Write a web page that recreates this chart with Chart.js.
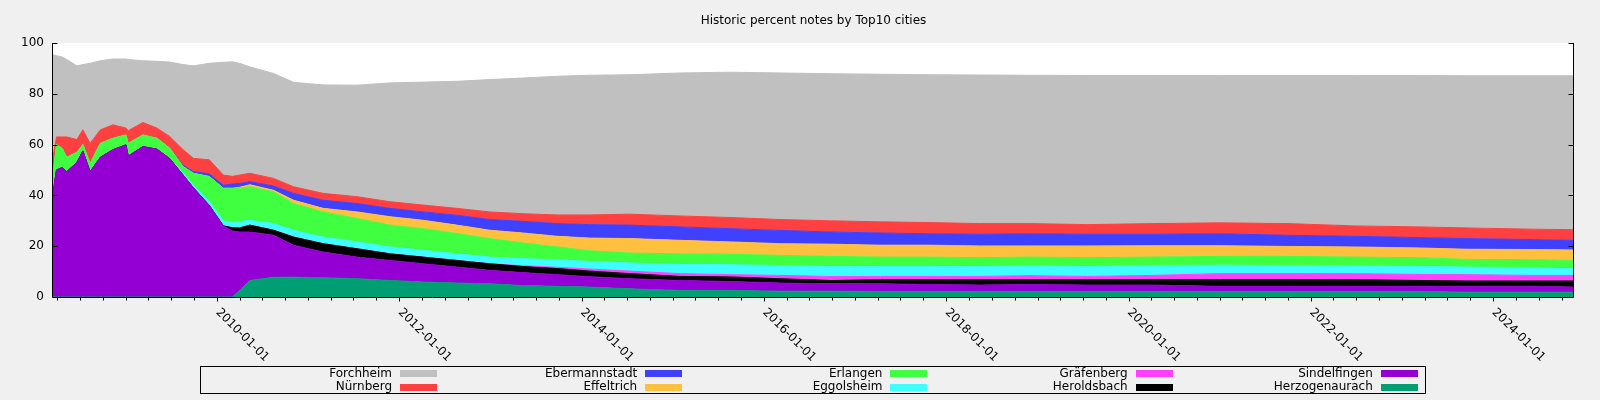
<!DOCTYPE html>
<html>
<head>
<meta charset="utf-8">
<title>Historic percent notes by Top10 cities</title>
<script src="https://cdn.jsdelivr.net/npm/chart.js@4/dist/chart.umd.min.js"></script>
<style>
    html, body { margin: 0; padding: 0; background: #f0f0f0; }
    canvas { display: block; }
</style>
</head>
<body>
<canvas id="notesChart" width="1600" height="400"></canvas>
<script>
(function () {
    'use strict';

    // sample dates (x values)
    const dates = [
        '2008-03-14', '2008-03-28', '2008-04-20', '2008-05-08', '2008-06-18', '2008-07-12', '2008-08-10', '2008-09-20', '2008-11-10', '2009-01-01',
        '2009-01-10', '2009-03-10', '2009-05-05', '2009-06-25', '2009-08-18', '2009-09-28', '2009-12-01', '2010-01-26', '2010-03-03', '2010-04-01',
        '2010-05-12', '2010-08-15', '2010-11-03', '2011-03-01', '2011-07-15', '2011-11-25', '2012-04-05', '2012-08-18', '2012-12-28', '2013-05-10',
        '2013-09-25', '2014-02-01', '2014-07-12', '2015-01-30', '2015-08-18', '2016-03-06', '2016-09-24', '2017-04-12', '2017-10-27', '2018-05-15',
        '2018-12-01', '2019-07-19', '2020-04-08', '2021-01-01', '2021-10-01', '2022-06-21', '2023-03-15', '2023-09-16', '2024-06-10', '2024-11-20'
    ];

    // percent per city, stacked from the bottom up
    const herzogenaurach = [0, 0, 0, 0, 0, 0, 0, 0, 0, 0, 0, 0, 0, 0, 0, 0, 0, 0, 0, 2.6, 6.5, 7.8, 7.8, 7.6, 7.2, 6.5, 5.9, 5.5, 5.2, 4.5, 4.2, 3.9, 3.2, 2.6, 2.6, 2.3, 2.3, 2.2, 2.2, 2.2, 2.2, 2.2, 2.2, 2.2, 2.2, 2.2, 2.2, 1.9, 1.9, 1.9];
    const sindelfingen = [41, 50, 51, 49.3, 53, 57.5, 49.3, 55, 58, 59.9, 55.5, 59.2, 58.2, 54.5, 48, 43, 36, 28, 26, 23, 19.1, 16.5, 12.6, 10.1, 8.5, 7.9, 7.2, 6.3, 5.3, 5.1, 4.6, 4.1, 4, 3.9, 3.5, 3.2, 2.9, 3, 2.7, 2.5, 2.7, 2.5, 2.5, 2, 2, 2, 2, 2.3, 2.3, 2];
    const heroldsbach = [0, 0, 0, 0, 0, 0, 0, 0, 0, 0, 0, 0, 0, 0, 0, 0, 0, 0, 1.3, 1.6, 2.7, 2, 3.2, 3.3, 3.3, 2.6, 2.6, 2.6, 2.6, 2.4, 2.4, 2.2, 2, 1.6, 1.8, 1.7, 1.3, 1.6, 1.9, 2.1, 1.9, 2.1, 2.2, 2.7, 2.7, 2.6, 2.3, 2.1, 2.1, 2.4];
    const graefenberg = [0, 0, 0, 0, 0, 0, 0, 0, 0, 0, 0, 0, 0, 0, 0, 0, 0, 0, 0, 0, 0, 0, 0, 0, 0, 0, 0, 0, 0, 0.3, 0.5, 0.8, 1, 1.1, 0.9, 1.3, 1.6, 1.3, 1.3, 1.3, 1.6, 1.3, 1.6, 2.3, 2.3, 2.4, 2.4, 2.5, 2.2, 2.2];
    const eggolsheim = [0, 0, 0, 0, 0, 0, 0, 0, 0, 0, 0, 0, 0, 0, 0.8, 1, 1.5, 2, 2, 2.4, 1.9, 2.6, 2.7, 2.6, 2.7, 2.7, 2.7, 2.6, 2.6, 2.8, 2.9, 3, 3.2, 3.6, 3.9, 3.9, 3.9, 3.9, 3.9, 3.9, 3.8, 3.9, 3.9, 3.3, 3.2, 3, 3.1, 3, 3, 2.6];
    const erlangen = [7, 10, 7.5, 5.7, 4, 2.5, 3.3, 5.5, 4.5, 3.9, 5, 4.6, 4.3, 4.1, 2.5, 4.7, 9.9, 12.8, 13.5, 13.2, 13.2, 12.5, 10.5, 9.9, 9.2, 8.6, 8.5, 8, 7.3, 6.2, 5.1, 4.2, 3.9, 4.2, 4.1, 4, 4, 3.7, 3.7, 3.5, 3.5, 3.5, 3.3, 3.5, 3.6, 3.5, 3.5, 3, 3.2, 3.3];
    const effeltrich = [0, 0, 0, 0, 0, 0, 0, 0, 0, 0, 0, 0, 0, 0, 0, 0, 0, 0, 0, 0.4, 0.8, 0.6, 1.3, 1.4, 2.6, 3.3, 3.3, 3.3, 3.3, 3.9, 4.2, 5, 5.7, 5.3, 4.9, 4.6, 4.8, 4.7, 4.7, 4.6, 4.4, 4.6, 4.5, 4.2, 3.9, 4, 3.8, 4, 4, 4.1];
    const ebermannstadt = [0, 0, 0, 0, 0, 0, 0, 0, 0, 0, 0, 0, 0, 0, 0.5, 0.7, 1.1, 1.2, 1.7, 1.5, 1.2, 1.7, 2.7, 3.2, 3.3, 3.3, 3.3, 3.9, 4.2, 4.6, 5, 5.3, 5.3, 5.3, 5.2, 5.2, 4.8, 4.8, 4.5, 4.6, 4.8, 4.6, 4.5, 4.7, 4.4, 4.2, 4.1, 4.2, 3.9, 3.8];
    const nuernberg = [7, 3, 4.5, 8, 5, 5.8, 7.9, 5.3, 5.3, 2.7, 5, 4.9, 4, 4.6, 6.2, 5.2, 5.5, 4, 3, 3.3, 3.3, 3, 2.6, 2.7, 2.7, 2.6, 2.7, 2.7, 3, 3, 3.4, 3.8, 4.3, 4.3, 4.4, 4.3, 4.4, 4.4, 4.4, 4.2, 4, 3.8, 4.2, 4.3, 4.6, 4.1, 4.2, 4.2, 4.1, 4.2];
    const forchheim = [40.4, 32, 31.5, 30.5, 29, 25.7, 31.5, 27.2, 25.9, 27.2, 28, 24.3, 26.3, 29.3, 33.5, 36.4, 38, 44.4, 45.1, 44, 41.9, 41.3, 41.1, 42.7, 43.9, 46.8, 48.4, 50, 52.1, 53.4, 54.6, 55, 54.9, 56.3, 57.2, 57.7, 57.9, 58.1, 58.2, 58.5, 58.4, 58.7, 58.3, 58, 58.3, 59.2, 59.6, 59.9, 60.4, 60.6];

    const cities = ['Herzogenaurach', 'Sindelfingen', 'Heroldsbach', 'Gräfenberg', 'Eggolsheim', 'Erlangen', 'Effeltrich', 'Ebermannstadt', 'Nürnberg', 'Forchheim'];
    const series = [herzogenaurach, sindelfingen, heroldsbach, graefenberg, eggolsheim, erlangen, effeltrich, ebermannstadt, nuernberg, forchheim];
    const colors = ['#009e73', '#9400d3', '#000000', '#ff40ff', '#40ffff', '#40ff40', '#ffc040', '#4040ff', '#ff4040', '#c0c0c0'];

    const yTicks = [0, 20, 40, 60, 80, 100];
    const xTickLabels = ['2010-01-01', '2012-01-01', '2014-01-01', '2016-01-01', '2018-01-01', '2020-01-01', '2022-01-01', '2024-01-01'];

    const FONT = '"DejaVu Sans", sans-serif';

    function toYear(s) {
        const d = new Date(s + 'T00:00:00Z');
        const y = d.getUTCFullYear();
        const start = Date.UTC(y, 0, 1);
        const end = Date.UTC(y + 1, 0, 1);
        return y + (d.getTime() - start) / (end - start);
    }

    const xs = dates.map(toYear);

    const datasets = cities.map(function (name, i) {
        return {
            label: name,
            data: xs.map(function (x, j) { return { x: x, y: series[i][j] }; }),
            backgroundColor: colors[i],
            borderColor: colors[i],
            borderWidth: 1,
            pointRadius: 0,
            tension: 0,
            fill: i === 0 ? 'origin' : '-1'
        };
    });

    const gnuplotFrame = {
        id: 'gnuplotFrame',
        beforeDraw: function (chart) {
            const ctx = chart.ctx;
            const a = chart.chartArea;
            ctx.save();
            ctx.fillStyle = '#f0f0f0';
            ctx.fillRect(0, 0, chart.width, chart.height);
            ctx.fillStyle = '#ffffff';
            ctx.fillRect(a.left, a.top, a.right - a.left, a.bottom - a.top);
            ctx.restore();
        },
        afterDraw: function (chart) {
            const ctx = chart.ctx;
            const a = chart.chartArea;
            const x = chart.scales.x;
            const y = chart.scales.y;
            const L = a.left - 0.5;
            const R = a.right - 0.5;
            const B = a.bottom + 0.5;

            ctx.save();
            ctx.strokeStyle = '#000';
            ctx.lineWidth = 1;
            ctx.beginPath();
            ctx.moveTo(L, a.top);
            ctx.lineTo(L, B);
            ctx.lineTo(R, B);
            ctx.lineTo(R, a.top);

            yTicks.forEach(function (v) {
                const py = Math.round(y.getPixelForValue(v)) + 0.5;
                ctx.moveTo(L, py);
                ctx.lineTo(L + 5, py);
                ctx.moveTo(R, py);
                ctx.lineTo(R - 5, py);
            });

            // quarterly minor ticks, longer on the labelled years
            for (let yr = 2008; yr <= 2025; yr++) {
                for (let m = 1; m <= 10; m += 3) {
                    const v = toYear(yr + '-' + String(m).padStart(2, '0') + '-01');
                    if (v < x.min || v > x.max) continue;
                    const px = Math.round(x.getPixelForValue(v)) + 0.5;
                    const major = m === 1 && yr % 2 === 0;
                    ctx.moveTo(px, B);
                    ctx.lineTo(px, B + (major ? 4 : 3));
                }
            }
            ctx.stroke();

            ctx.fillStyle = '#000';
            ctx.font = '12px ' + FONT;
            ctx.textAlign = 'left';
            ctx.textBaseline = 'middle';
            xTickLabels.forEach(function (label) {
                const px = x.getPixelForValue(toYear(label));
                ctx.save();
                ctx.translate(px + 0.5, a.bottom + 13.5);
                ctx.rotate(Math.PI / 4);
                ctx.fillText(label, 0, 0);
                ctx.restore();
            });

            // legend box, five columns of two
            ctx.strokeRect(200.5, 366.5, 1225, 27);
            ctx.textAlign = 'right';
            const order = chart.data.datasets.slice().reverse();
            order.forEach(function (ds, k) {
                const col = Math.floor(k / 2);
                const row = k % 2;
                const textEnd = 392 + col * 245.2;
                const cy = 373.5 + row * 13.5;
                ctx.fillStyle = '#000';
                ctx.fillText(ds.label, textEnd, cy);
                ctx.fillStyle = ds.backgroundColor;
                ctx.fillRect(Math.round(textEnd + 8), Math.round(cy - 3.5), 37, 7);
            });
            ctx.restore();
        }
    };

    new Chart(document.getElementById('notesChart'), {
        type: 'line',
        data: { datasets: datasets },
        options: {
            responsive: false,
            animation: false,
            devicePixelRatio: 1,
            layout: { padding: { left: 0, right: 26, top: 0, bottom: 103 } },
            plugins: {
                legend: { display: false },
                tooltip: { enabled: false },
                title: {
                    display: true,
                    text: 'Historic percent notes by Top10 cities',
                    fullSize: false,
                    color: '#000',
                    font: { family: FONT, size: 12, weight: 'normal' },
                    padding: { top: 14, bottom: 14.6 }
                }
            },
            scales: {
                x: {
                    type: 'linear',
                    display: false,
                    min: xs[0],
                    max: xs[xs.length - 1]
                },
                y: {
                    stacked: true,
                    min: 0,
                    max: 100,
                    grid: { display: false },
                    border: { display: false },
                    ticks: {
                        color: '#000',
                        padding: 1,
                        font: { family: FONT, size: 12 }
                    },
                    afterBuildTicks: function (scale) {
                        scale.ticks = yTicks.map(function (v) { return { value: v }; });
                    },
                    afterFit: function (scale) { scale.width = 53; }
                }
            }
        },
        plugins: [gnuplotFrame]
    });
})();
</script>
</body>
</html>
